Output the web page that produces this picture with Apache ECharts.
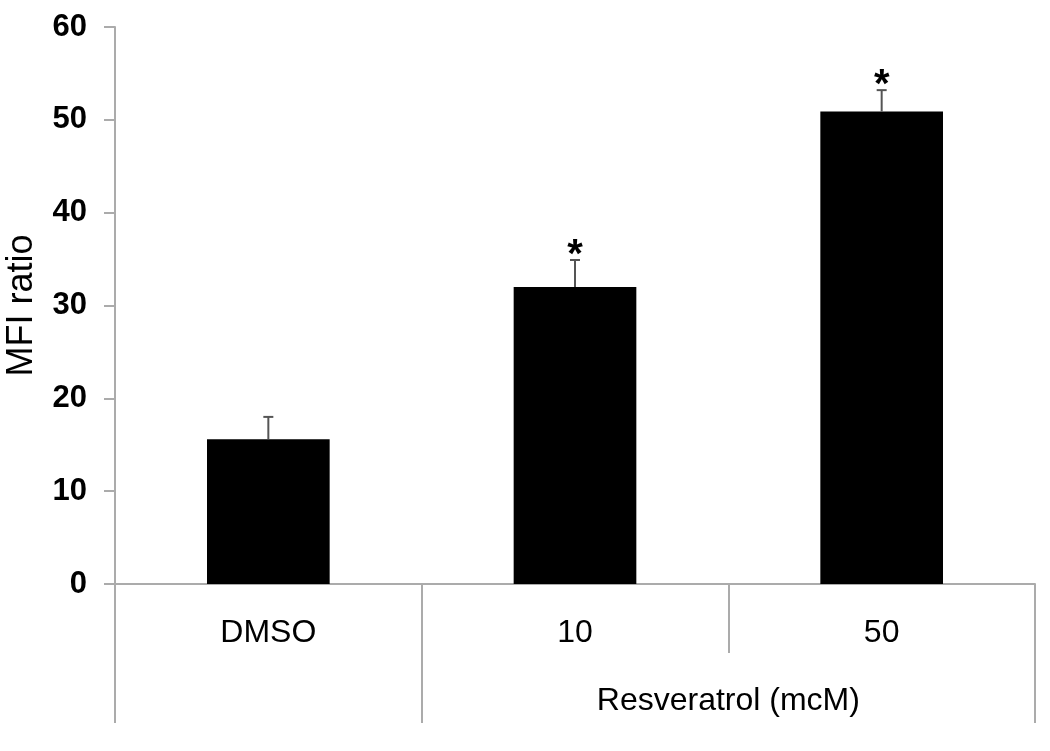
<!DOCTYPE html>
<html>
<head>
<meta charset="utf-8">
<script src="https://cdn.jsdelivr.net/npm/echarts@6/dist/echarts.min.js"></script>
<style>html,body{margin:0;padding:0;background:#fff;}#c{width:1050px;height:751px;}</style>
</head>
<body>
<div id="c"></div>
<script>
// ---- data ----
var categories = ['DMSO', '10', '50'];
var means = [15.6, 32.0, 50.9];
var errors = [2.4, 2.9, 2.3];
var significant = [false, true, true];
var groupNames = ['', 'Resveratrol (mcM)'];
var groupSpans = [1, 2];
var yTicks = [0, 10, 20, 30, 40, 50, 60];
var yAxisName = 'MFI ratio';

// ---- derived ----
var boundaries = [0];
var labelPos = [];
var labelText = {};
groupSpans.forEach(function (s, i) {
  var start = boundaries[boundaries.length - 1];
  boundaries.push(start + s);
  if (groupNames[i]) { labelPos.push(start + s / 2); labelText[start + s / 2] = groupNames[i]; }
});
var total = boundaries[boundaries.length - 1];

var errData = categories.map(function (c, i) { return [i, means[i], errors[i], significant[i] ? 1 : 0]; });

var FONT = "'Liberation Sans', Arial, sans-serif";
var AXIS_COLOR = '#ababab';

var chart = echarts.init(document.getElementById('c'));
chart.setOption({
  animation: false,
  backgroundColor: '#fff',
  grid: { left: 115, right: 15, top: 27, bottom: 167, containLabel: false, outerBoundsMode: 'none' },
  xAxis: [
    {
      type: 'category',
      data: categories,
      position: 'bottom',
      axisLine: { show: true, lineStyle: { color: AXIS_COLOR, width: 2 } },
      axisTick: { show: true, alignWithLabel: false, length: 69, lineStyle: { color: AXIS_COLOR, width: 2 } },
      axisLabel: { margin: 33, fontSize: 32, color: '#000', fontFamily: FONT },
      splitLine: { show: false }
    },
    {
      type: 'value',
      position: 'bottom',
      offset: 69,
      min: 0,
      max: total,
      axisLine: { show: false },
      axisTick: { show: true, customValues: boundaries, length: 70, lineStyle: { color: AXIS_COLOR, width: 2 } },
      axisLabel: {
        customValues: labelPos,
        margin: 32, fontSize: 32, color: '#000', fontFamily: FONT,
        formatter: function (v) { return labelText[v] || ''; }
      },
      splitLine: { show: false }
    }
  ],
  yAxis: {
    type: 'value',
    min: yTicks[0],
    max: yTicks[yTicks.length - 1],
    interval: yTicks[1] - yTicks[0],
    name: yAxisName,
    nameLocation: 'middle',
    nameGap: 75,
    nameRotate: 90,
    nameTextStyle: { fontSize: 36, color: '#000', fontFamily: FONT },
    axisLine: { show: true, lineStyle: { color: AXIS_COLOR, width: 2 } },
    axisTick: { show: true, length: 11, lineStyle: { color: AXIS_COLOR, width: 2 } },
    axisLabel: { margin: 28, fontSize: 31, fontWeight: 'bold', color: '#000', fontFamily: FONT },
    splitLine: { show: false }
  },
  series: [
    {
      type: 'bar',
      xAxisIndex: 0,
      data: means,
      barWidth: '40%',
      itemStyle: { color: '#000' },
      z: 2
    },
    {
      type: 'custom',
      xAxisIndex: 0,
      data: errData,
      encode: { x: 0, y: 1 },
      z: 3,
      renderItem: function (params, api) {
        var x = api.value(0), m = api.value(1), e = api.value(2), sig = api.value(3);
        var p0 = api.coord([x, m]);
        var p1 = api.coord([x, m + e]);
        var children = [
          { type: 'line', shape: { x1: p0[0], y1: p0[1], x2: p1[0], y2: p1[1] }, style: { stroke: '#555', lineWidth: 2 } },
          { type: 'line', shape: { x1: p1[0] - 5, y1: p1[1], x2: p1[0] + 5, y2: p1[1] }, style: { stroke: '#555', lineWidth: 2 } }
        ];
        if (sig) {
          children.push({
            type: 'text',
            style: { text: '*', x: p1[0], y: p1[1] + 16, align: 'center', verticalAlign: 'bottom', fontSize: 40, fontWeight: 'bold', fill: '#000', fontFamily: FONT }
          });
        }
        return { type: 'group', children: children };
      }
    }
  ]
});
</script>
</body>
</html>
